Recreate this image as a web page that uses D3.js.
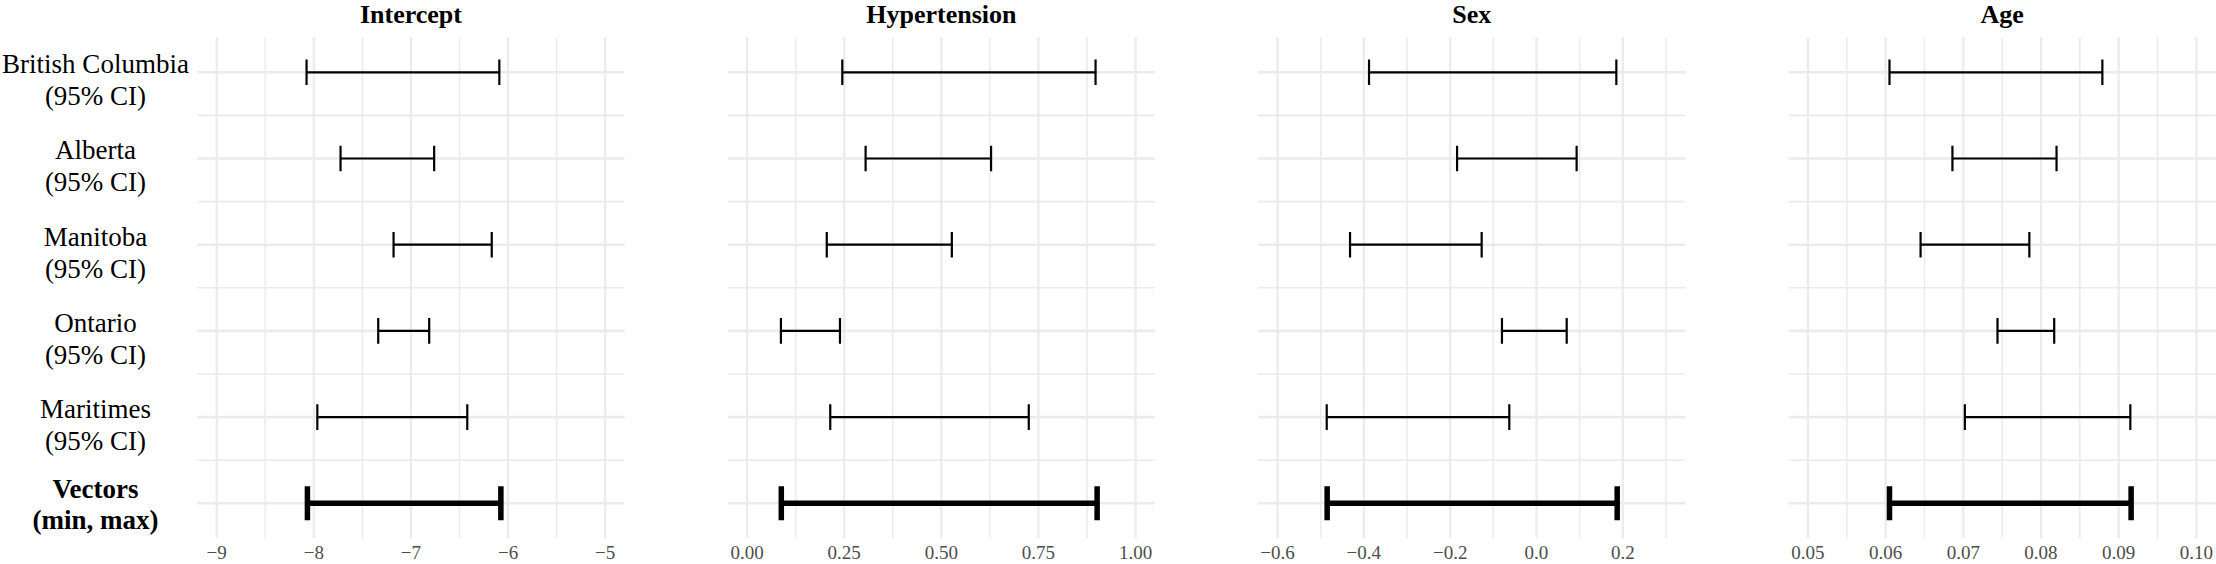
<!DOCTYPE html>
<html>
<head>
<meta charset="utf-8">
<script src="https://cdn.jsdelivr.net/npm/d3@7/dist/d3.min.js"></script>
<style>
  html, body { margin: 0; padding: 0; background: #ffffff; }
  svg { display: block; }
</style>
</head>
<body>
<div id="chart"></div>
<script>
// ---------------- DATA ----------------
const categories = ["British Columbia", "Alberta", "Manitoba", "Ontario", "Maritimes", "Vectors"];
const categorySubLabels = ["(95% CI)", "(95% CI)", "(95% CI)", "(95% CI)", "(95% CI)", "(min, max)"];
const boldCategories = ["Vectors"];

const panelTitles = ["Intercept", "Hypertension", "Sex", "Age"];

const interceptLower = [-8.075, -7.725, -7.179, -7.337, -7.964, -8.066];
const interceptUpper = [-6.090, -6.761, -6.168, -6.812, -6.420, -6.074];

const hypertensionLower = [0.245, 0.305, 0.205, 0.087, 0.214, 0.088];
const hypertensionUpper = [0.897, 0.628, 0.527, 0.239, 0.725, 0.901];

const sexLower = [-0.388, -0.184, -0.432, -0.080, -0.486, -0.485];
const sexUpper = [0.185, 0.093, -0.127, 0.070, -0.063, 0.187];

const ageLower = [0.0605, 0.0686, 0.0645, 0.0744, 0.0702, 0.0605];
const ageUpper = [0.0879, 0.0820, 0.0785, 0.0817, 0.0915, 0.0916];

const interceptTicks = [-9, -8, -7, -6, -5];
const hypertensionTicks = [0, 0.25, 0.5, 0.75, 1];
const sexTicks = [-0.6, -0.4, -0.2, 0, 0.2];
const ageTicks = [0.05, 0.06, 0.07, 0.08, 0.09, 0.10];

const interceptLimits = [-9, -5];
const hypertensionLimits = [0, 1];
const sexLimits = [-0.6, 0.3];
const ageLimits = [0.05, 0.10];

const tickFormats = ["d", ".2f", ".1f", ".2f"];

// ---------------- LAYOUT ----------------
const W = 2216, H = 564;
const FONT = "'Liberation Serif', 'Times New Roman', Times, 'DejaVu Serif', serif";
const panelLeft0 = 197.3, panelWidth = 427.3, panelStep = 530.4;
const panelTop = 37.3, panelBottom = 538.3;

const panels = [
  { title: panelTitles[0], lower: interceptLower, upper: interceptUpper, ticks: interceptTicks, limits: interceptLimits, fmt: tickFormats[0] },
  { title: panelTitles[1], lower: hypertensionLower, upper: hypertensionUpper, ticks: hypertensionTicks, limits: hypertensionLimits, fmt: tickFormats[1] },
  { title: panelTitles[2], lower: sexLower, upper: sexUpper, ticks: sexTicks, limits: sexLimits, fmt: tickFormats[2] },
  { title: panelTitles[3], lower: ageLower, upper: ageUpper, ticks: ageTicks, limits: ageLimits, fmt: tickFormats[3] }
];

const svg = d3.select("#chart").append("svg")
  .attr("width", W).attr("height", H)
  .attr("viewBox", `0 0 ${W} ${H}`)
  .attr("font-family", FONT);

svg.append("rect").attr("width", W).attr("height", H).attr("fill", "#ffffff");

const y = d3.scalePoint()
  .domain(categories)
  .range([panelTop, panelBottom])
  .padding(0.406);

const gridColor = "#ebebeb";

panels.forEach((p, i) => {
  const x0 = panelLeft0 + i * panelStep;
  const span = p.limits[1] - p.limits[0];
  const x = d3.scaleLinear()
    .domain([p.limits[0] - 0.05 * span, p.limits[1] + 0.05 * span])
    .range([x0, x0 + panelWidth]);

  const g = svg.append("g").attr("class", "panel");

  // minor vertical gridlines
  const step = p.ticks[1] - p.ticks[0];
  const minor = [];
  const dom = x.domain();
  for (let k = -1; k < p.ticks.length; k++) {
    const v = p.ticks[0] + (k + 0.5) * step;
    if (v >= dom[0] && v <= dom[1]) minor.push(v);
  }
  g.selectAll("line.vminor").data(minor).enter().append("line")
    .attr("x1", d => x(d)).attr("x2", d => x(d))
    .attr("y1", panelTop).attr("y2", panelBottom)
    .attr("stroke", gridColor).attr("stroke-width", 1.6);

  // minor horizontal gridlines between rows
  const rowMid = [];
  for (let k = 0; k < categories.length - 1; k++) {
    rowMid.push((y(categories[k]) + y(categories[k + 1])) / 2);
  }
  g.selectAll("line.hminor").data(rowMid).enter().append("line")
    .attr("x1", x.range()[0]).attr("x2", x.range()[1])
    .attr("y1", d => d).attr("y2", d => d)
    .attr("stroke", gridColor).attr("stroke-width", 1.6);

  // major vertical gridlines
  g.selectAll("line.vmajor").data(p.ticks).enter().append("line")
    .attr("x1", d => x(d)).attr("x2", d => x(d))
    .attr("y1", panelTop).attr("y2", panelBottom)
    .attr("stroke", gridColor).attr("stroke-width", 2.2);

  // major horizontal gridlines at categories
  g.selectAll("line.hmajor").data(categories).enter().append("line")
    .attr("x1", x.range()[0]).attr("x2", x.range()[1])
    .attr("y1", d => y(d)).attr("y2", d => y(d))
    .attr("stroke", gridColor).attr("stroke-width", 2.6);

  // title
  g.append("text")
    .attr("x", x0 + panelWidth / 2).attr("y", 23)
    .attr("text-anchor", "middle")
    .attr("font-family", FONT)
    .attr("font-size", 26).attr("font-weight", "bold")
    .attr("fill", "#000")
    .text(p.title);

  // x tick labels
  const f = d3.format(p.fmt);
  g.selectAll("text.tick").data(p.ticks).enter().append("text")
    .attr("x", d => x(d)).attr("y", 559)
    .attr("text-anchor", "middle")
    .attr("font-family", FONT)
    .attr("font-size", 19)
    .attr("fill", "#4d4d4d")
    .text(d => f(d));

  // error bars
  const rows = categories.map((c, j) => ({ c, lo: p.lower[j], hi: p.upper[j], bold: boldCategories.includes(c) }));
  rows.forEach(r => {
    const yc = y(r.c);
    const half = r.bold ? 17 : 12.8;
    const sw = r.bold ? 5.5 : 2.2;
    const path = d3.path();
    path.moveTo(x(r.lo), yc - half); path.lineTo(x(r.lo), yc + half);
    path.moveTo(x(r.hi), yc - half); path.lineTo(x(r.hi), yc + half);
    path.moveTo(x(r.lo), yc); path.lineTo(x(r.hi), yc);
    g.append("path")
      .attr("d", path.toString())
      .attr("fill", "none")
      .attr("stroke", "#000")
      .attr("stroke-width", sw)
      .attr("stroke-linecap", "butt");
  });
});

// y-axis labels (two lines, centered)
const labelX = 95.5;
categories.forEach((c, j) => {
  const bold = boldCategories.includes(c);
  const yc = y(c);
  const t = svg.append("text")
    .attr("text-anchor", "middle")
    .attr("font-family", FONT)
    .attr("font-size", 27)
    .attr("font-weight", bold ? "bold" : "normal")
    .attr("fill", "#000");
  t.append("tspan").attr("x", labelX).attr("y", yc + (bold ? -5 : 1)).text(c);
  t.append("tspan").attr("x", labelX).attr("y", yc + (bold ? 26 : 33)).text(categorySubLabels[j]);
});
</script>
</body>
</html>
